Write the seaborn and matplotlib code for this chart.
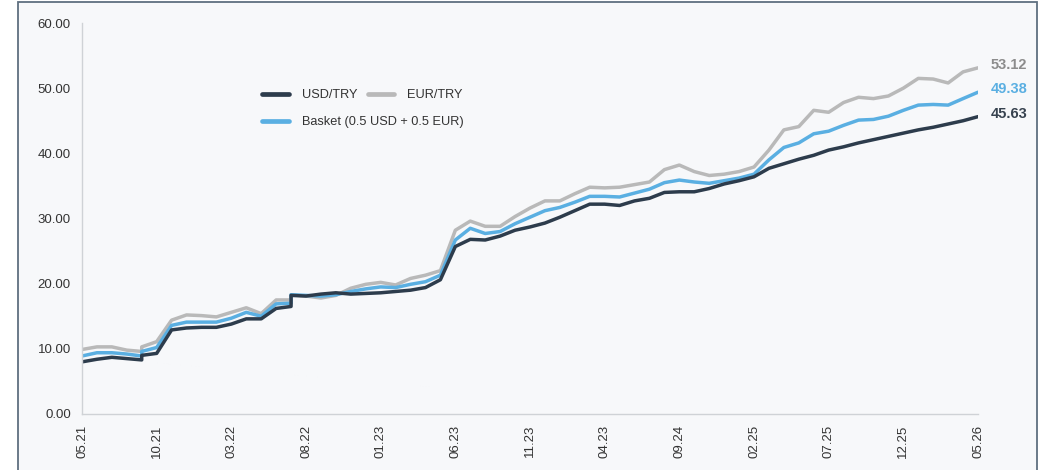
import numpy as np
import pandas as pd
import matplotlib
matplotlib.use("Agg")
import matplotlib.pyplot as plt
from matplotlib.patches import Rectangle
import seaborn as sns

# month offsets from 05.21 (two jumps inside a month are given twice)
months = [0, 1, 2, 3, 4, 4, 5, 6, 7, 8, 9, 10, 11, 12, 13, 14, 14, 15, 16, 17, 18, 19, 20,
          21, 22, 23, 24, 25, 26, 27, 28, 29, 30, 31, 32, 33, 34, 35, 36, 37, 38, 39, 40,
          41, 42, 43, 44, 45, 46, 47, 48, 49, 50, 51, 52, 53, 54, 55, 56, 57, 58, 59, 60]

usd = [8.0, 8.4, 8.7, 8.5, 8.3, 9.0, 9.3, 12.9, 13.2, 13.3, 13.3, 13.8, 14.6, 14.6, 16.2,
       16.5, 18.2, 18.1, 18.4, 18.6, 18.4, 18.5, 18.6, 18.8, 19.0, 19.4, 20.6, 25.7, 26.8,
       26.7, 27.3, 28.2, 28.7, 29.3, 30.2, 31.2, 32.2, 32.2, 32.0, 32.7, 33.1, 34.0, 34.1,
       34.1, 34.6, 35.3, 35.8, 36.4, 37.7, 38.4, 39.1, 39.7, 40.5, 41.0, 41.6, 42.1, 42.6,
       43.1, 43.6, 44.0, 44.5, 45.0, 45.63]

eur = [9.9, 10.3, 10.3, 9.8, 9.6, 10.3, 11.1, 14.4, 15.2, 15.1, 14.9, 15.6, 16.3, 15.4, 17.5,
       17.5, 18.3, 18.1, 17.8, 18.2, 19.3, 19.9, 20.2, 19.8, 20.8, 21.3, 22.0, 28.2, 29.6,
       28.8, 28.8, 30.3, 31.6, 32.7, 32.7, 33.8, 34.8, 34.7, 34.8, 35.2, 35.6, 37.5, 38.2,
       37.2, 36.6, 36.8, 37.2, 37.9, 40.5, 43.6, 44.1, 46.6, 46.3, 47.8, 48.6, 48.4, 48.8,
       50.0, 51.5, 51.4, 50.8, 52.5, 53.12]

basket = [8.9, 9.4, 9.4, 9.2, 8.9, 9.6, 10.2, 13.6, 14.1, 14.1, 14.1, 14.7, 15.6, 15.0, 16.9,
          17.0, 18.3, 18.2, 18.1, 18.3, 18.8, 19.2, 19.5, 19.4, 19.9, 20.3, 21.3, 26.7, 28.5,
          27.7, 28.0, 29.2, 30.2, 31.2, 31.7, 32.5, 33.4, 33.4, 33.3, 33.9, 34.5, 35.5, 35.9,
          35.6, 35.4, 35.8, 36.2, 36.8, 39.0, 40.9, 41.6, 43.0, 43.4, 44.3, 45.1, 45.2, 45.7,
          46.6, 47.4, 47.5, 47.4, 48.4, 49.38]

tick_pos = list(range(0, 61, 5))
tick_labels = ["05.21", "10.21", "03.22", "08.22", "01.23", "06.23", "11.23",
               "04.23", "09.24", "02.25", "07.25", "12.25", "05.26"]

series_names = ["EUR/TRY", "Basket (0.5 USD + 0.5 EUR)", "USD/TRY"]
colors = {"USD/TRY": "#2d3c4c", "EUR/TRY": "#b9b9b9", "Basket (0.5 USD + 0.5 EUR)": "#5aafe2"}
label_colors = {"USD/TRY": "#37424f", "EUR/TRY": "#8c8c8c", "Basket (0.5 USD + 0.5 EUR)": "#5aafe2"}

df = pd.concat([
    pd.DataFrame({"month": months, "rate": eur, "series": "EUR/TRY"}),
    pd.DataFrame({"month": months, "rate": basket, "series": "Basket (0.5 USD + 0.5 EUR)"}),
    pd.DataFrame({"month": months, "rate": usd, "series": "USD/TRY"}),
])

sns.set_style("white")
plt.rcParams["font.family"] = ["Liberation Sans", "DejaVu Sans"]

bg = "#f7f8fa"
fig = plt.figure(figsize=(10.44, 4.70), dpi=100)
fig.patch.set_facecolor("white")
fig.patches.append(Rectangle((18 / 1044, -0.02), (1037 - 18) / 1044, 1.02 - 2.5 / 470,
                             transform=fig.transFigure, facecolor=bg, edgecolor="#5f6f80",
                             linewidth=1.3, zorder=-10))
ax = fig.add_axes([82 / 1044, 1 - 414 / 470, (978 - 82) / 1044, (414 - 23) / 470])
ax.patch.set_alpha(0)

sns.lineplot(data=df, x="month", y="rate", hue="series", hue_order=series_names,
             palette=colors, estimator=None, sort=False, units="series",
             linewidth=2.5, legend=False, ax=ax)

ax.set_xlim(0, 60)
ax.set_ylim(0, 60)
ax.set_xticks(tick_pos)
ax.set_xticklabels(tick_labels, rotation=90, fontsize=9.5, color="#333333")
ax.set_yticks(np.arange(0, 61, 10))
ax.set_yticklabels([f"{v:.2f}" for v in np.arange(0, 61, 10)], fontsize=9.5, color="#333333")
ax.set_xlabel("")
ax.set_ylabel("")
for s in ["top", "right"]:
    ax.spines[s].set_visible(False)
for s in ["left", "bottom"]:
    ax.spines[s].set_color("#cfd2d6")
    ax.spines[s].set_linewidth(1.0)
ax.tick_params(axis="both", length=4, width=1, color="#cfd2d6", pad=4)

# end-of-line value labels
last = {"EUR/TRY": eur[-1], "Basket (0.5 USD + 0.5 EUR)": basket[-1], "USD/TRY": usd[-1]}
for name in series_names:
    ax.annotate(f"{last[name]:.2f}", xy=(months[-1], last[name]), xytext=(9, 2),
                textcoords="offset points", ha="left", va="center", fontsize=10.5,
                fontweight="bold", color=label_colors[name], annotation_clip=False)

def handle(n):
    return plt.Line2D([], [], color=colors[n], linewidth=3.4)

leg_kw = dict(loc="upper left", frameon=False, fontsize=9.2, handlelength=2.1,
              handletextpad=1.0, columnspacing=0.8, labelcolor="#333333", borderpad=0)
leg1 = ax.legend([handle("USD/TRY"), handle("EUR/TRY")], ["USD/TRY", "EUR/TRY"], ncol=2,
                 bbox_to_anchor=(0.194, 0.847), **leg_kw)
ax.add_artist(leg1)
ax.legend([handle("Basket (0.5 USD + 0.5 EUR)")], ["Basket (0.5 USD + 0.5 EUR)"],
          bbox_to_anchor=(0.194, 0.778), **leg_kw)

fig.savefig("out.png", dpi=100, facecolor=fig.get_facecolor())
